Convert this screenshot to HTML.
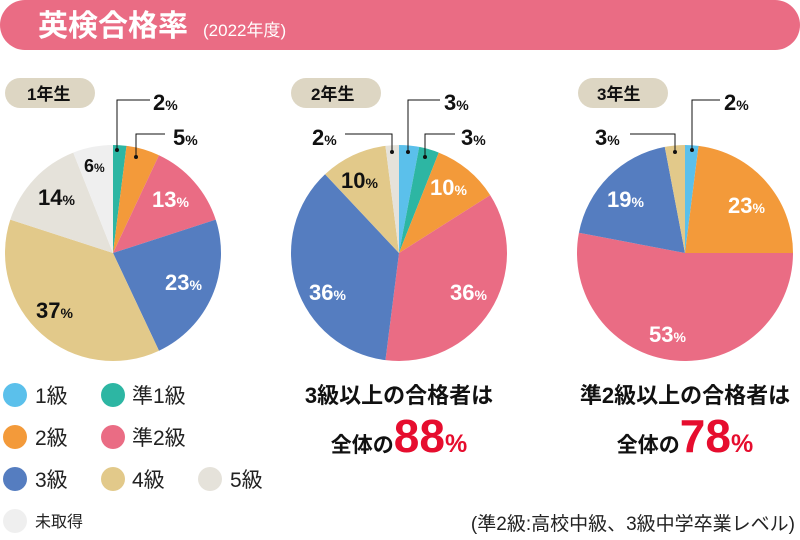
<!DOCTYPE html>
<html><head><meta charset="utf-8"><style>
body{margin:0;width:800px;height:540px;background:#fff;overflow:hidden;position:relative;font-family:"Liberation Sans","Noto Sans CJK JP",sans-serif}
svg{position:absolute;left:0;top:0}
</style></head><body>
<svg width="800" height="540" viewBox="0 0 800 540" xmlns="http://www.w3.org/2000/svg" font-family="'Liberation Sans Narrow','Liberation Sans','Noto Sans CJK JP',sans-serif">
<rect x="0" y="0" width="800" height="50" rx="25" fill="#ea6c84"/>
<text x="38" y="36" font-size="30" font-weight="bold" fill="#fff" font-family="'Noto Sans CJK JP',sans-serif">英検合格率</text>
<text x="203" y="36" font-size="17" fill="#fff" font-family="'Liberation Sans','Noto Sans CJK JP',sans-serif">(2022年度)</text>

<g id="pies"></g>

<g font-family="'Liberation Sans','Noto Sans CJK JP',sans-serif" font-weight="bold" font-size="17" fill="#111">
<rect x="5" y="78" width="90" height="30" rx="15" fill="#ddd6c3"/>
<text x="27" y="100">1<tspan font-family="'Noto Sans CJK JP',sans-serif">年生</tspan></text>
<rect x="291" y="78" width="90" height="30" rx="15" fill="#ddd6c3"/>
<text x="311" y="100">2<tspan font-family="'Noto Sans CJK JP',sans-serif">年生</tspan></text>
<rect x="578" y="78" width="90" height="30" rx="15" fill="#ddd6c3"/>
<text x="597" y="100">3<tspan font-family="'Noto Sans CJK JP',sans-serif">年生</tspan></text>
</g>

<g stroke="#111" stroke-width="1" fill="none">
<polyline points="117,150 117,100 150,100"/>
<polyline points="136,157 136,134 165,134"/>
<polyline points="408,152 408,100 440,100"/>
<polyline points="425,157 425,134 455,134"/>
<polyline points="345,134 392,134 392,152"/>
<polyline points="692,150 692,100 720,100"/>
<polyline points="630,134 675,134 675,152"/>
</g>
<g fill="#111">
<circle cx="117" cy="150" r="2"/><circle cx="136" cy="157" r="2"/>
<circle cx="408" cy="152" r="2"/><circle cx="425" cy="157" r="2"/><circle cx="392" cy="152" r="2"/>
<circle cx="692" cy="150" r="2"/><circle cx="675" cy="152" r="2"/>
</g>

<g font-weight="bold" font-size="22">
<text x="153" y="110" fill="#111">2<tspan font-size="14">%</tspan></text>
<text x="173" y="145" fill="#111">5<tspan font-size="14">%</tspan></text>
<text x="84" y="172" fill="#111" font-size="18">6<tspan font-size="12">%</tspan></text>
<text x="38" y="205" fill="#111">14<tspan font-size="14">%</tspan></text>
<text x="152" y="207" fill="#fff">13<tspan font-size="14">%</tspan></text>
<text x="165" y="290" fill="#fff">23<tspan font-size="14">%</tspan></text>
<text x="36" y="318" fill="#111">37<tspan font-size="14">%</tspan></text>

<text x="444" y="110" fill="#111">3<tspan font-size="14">%</tspan></text>
<text x="461" y="145" fill="#111">3<tspan font-size="14">%</tspan></text>
<text x="312" y="145" fill="#111">2<tspan font-size="14">%</tspan></text>
<text x="341" y="188" fill="#111">10<tspan font-size="14">%</tspan></text>
<text x="430" y="195" fill="#fff">10<tspan font-size="14">%</tspan></text>
<text x="309" y="300" fill="#fff">36<tspan font-size="14">%</tspan></text>
<text x="450" y="300" fill="#fff">36<tspan font-size="14">%</tspan></text>

<text x="724" y="110" fill="#111">2<tspan font-size="14">%</tspan></text>
<text x="595" y="145" fill="#111">3<tspan font-size="14">%</tspan></text>
<text x="607" y="207" fill="#fff">19<tspan font-size="14">%</tspan></text>
<text x="728" y="213" fill="#fff">23<tspan font-size="14">%</tspan></text>
<text x="649" y="342" fill="#fff">53<tspan font-size="14">%</tspan></text>
</g>

<g font-size="21" fill="#222" font-family="'Liberation Sans','Noto Sans CJK JP',sans-serif">
<circle cx="15" cy="395" r="12" fill="#5bc0eb"/><text x="35" y="403">1級</text>
<circle cx="113" cy="395" r="12" fill="#2db6a3"/><text x="132" y="403">準1級</text>
<circle cx="15" cy="437" r="12" fill="#f39a3a"/><text x="35" y="445">2級</text>
<circle cx="113" cy="437" r="12" fill="#ea6c84"/><text x="132" y="445">準2級</text>
<circle cx="15" cy="479" r="12" fill="#557dc0"/><text x="35" y="487">3級</text>
<circle cx="113" cy="479" r="12" fill="#e2c98a"/><text x="132" y="487">4級</text>
<circle cx="210" cy="479" r="12" fill="#e5e2da"/><text x="230" y="487">5級</text>
<circle cx="15" cy="521" r="12" fill="#efefef"/><text x="35" y="527" font-size="16">未取得</text>
</g>

<g font-weight="bold" fill="#111" font-family="'Liberation Sans','Noto Sans CJK JP',sans-serif" text-anchor="middle">
<text x="399" y="403" font-size="22">3級以上の合格者は</text>
<text x="685" y="403" font-size="22">準2級以上の合格者は</text>
<text x="399" y="452" font-size="21">全体の<tspan font-size="46" fill="#e60d2e">88</tspan><tspan font-size="25" fill="#e60d2e">%</tspan></text>
<text x="685" y="452" font-size="21">全体の<tspan font-size="46" fill="#e60d2e">78</tspan><tspan font-size="25" fill="#e60d2e">%</tspan></text>
</g>
<text x="795" y="530" text-anchor="end" font-size="19" fill="#222" font-family="'Liberation Sans','Noto Sans CJK JP',sans-serif">(準2級:高校中級、3級中学卒業レベル)</text>
</svg>
<script>
var C={a:"#5bc0eb",b:"#2db6a3",c:"#f39a3a",d:"#ea6c84",e:"#557dc0",f:"#e2c98a",g:"#e5e2da",h:"#efefef"};
var pies=[[113,[["b",2],["c",5],["d",13],["e",23],["f",37],["g",14],["h",6]]],
[399,[["a",3],["b",3],["c",10],["d",36],["e",36],["f",10],["g",2]]],
[685,[["a",2],["c",23],["d",53],["e",19],["f",3]]]];
var g=document.getElementById("pies"),s="",cy=253,r=108;
pies.forEach(function(p){var cx=p[0],a=0;p[1].forEach(function(q){
var a0=a/100*2*Math.PI,a1=(a+q[1])/100*2*Math.PI;a+=q[1];
var x0=cx+r*Math.sin(a0),y0=cy-r*Math.cos(a0),x1=cx+r*Math.sin(a1),y1=cy-r*Math.cos(a1);
s+='<path d="M'+cx+','+cy+' L'+x0+','+y0+' A'+r+','+r+' 0 '+(q[1]>50?1:0)+' 1 '+x1+','+y1+' Z" fill="'+C[q[0]]+'"/>';});});
g.innerHTML=s;
</script>
</body></html>
